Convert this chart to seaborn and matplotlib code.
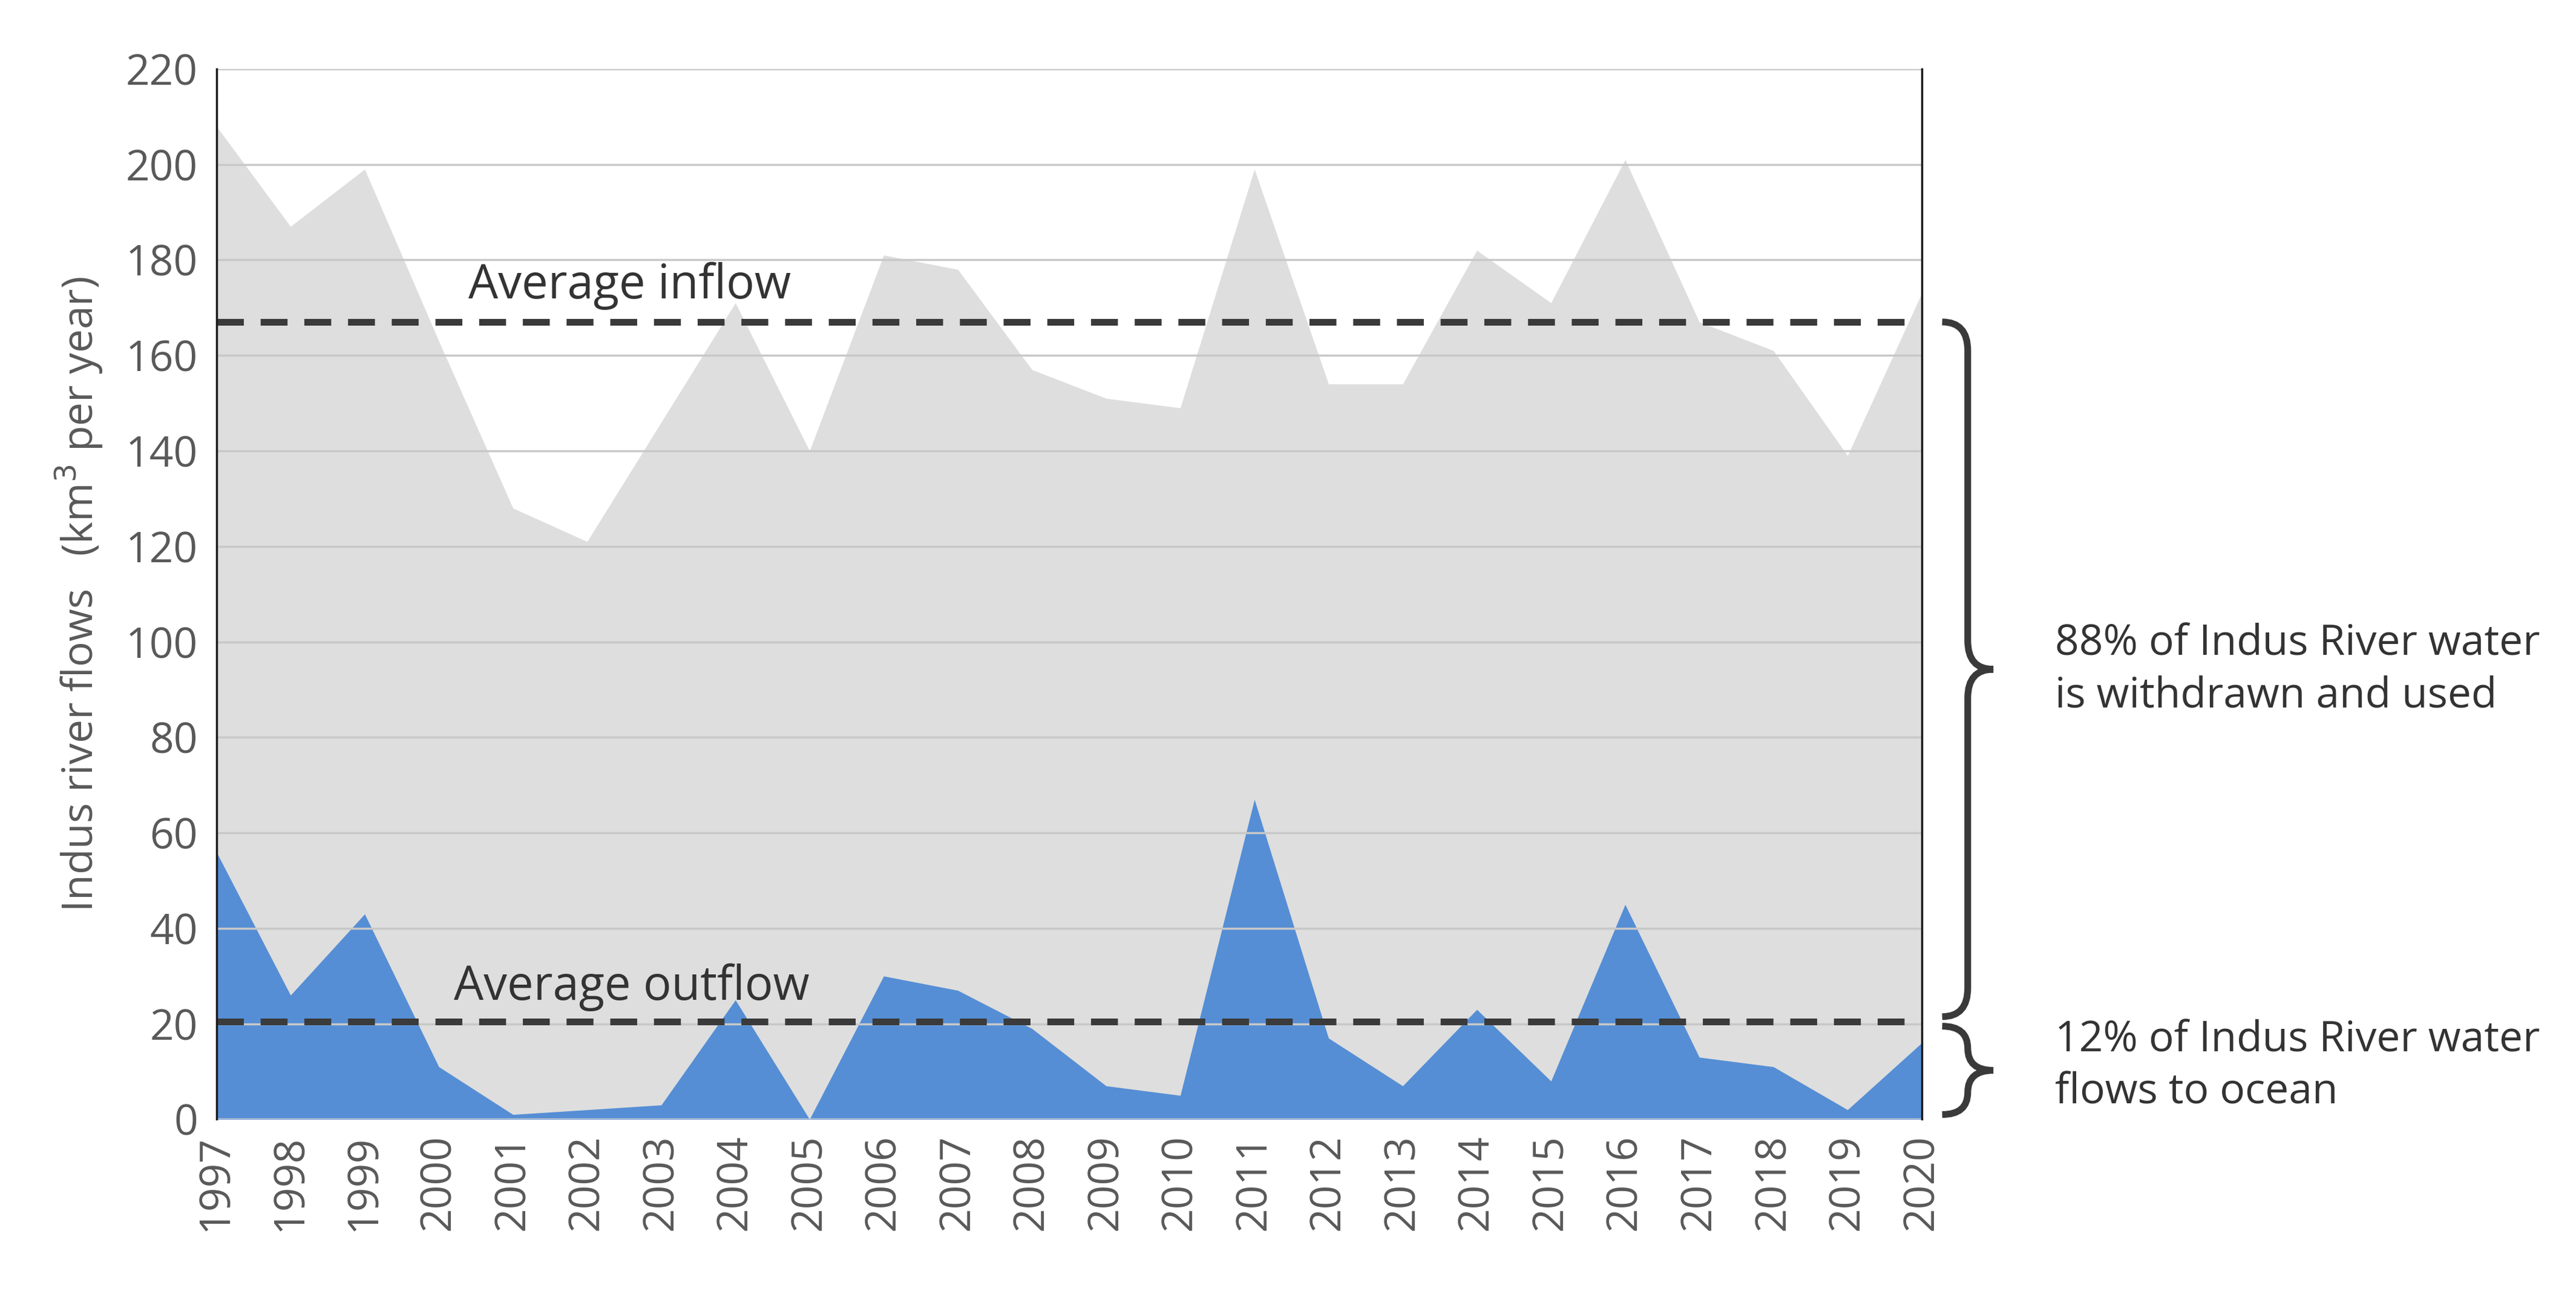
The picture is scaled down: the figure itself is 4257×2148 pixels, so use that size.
import numpy as np
import pandas as pd
import matplotlib.pyplot as plt
from matplotlib.path import Path
from matplotlib.patches import PathPatch
import matplotlib.transforms as mtransforms
import seaborn as sns

years = list(range(1997, 2021))
inflow = [208, 187, 199, 163, 128, 121, 146, 171, 140, 181, 178, 157,
          151, 149, 199, 154, 154, 182, 171, 201, 167, 161, 139, 173]
outflow = [56, 26, 43, 11, 1, 2, 3, 25, 0, 30, 27, 19,
           7, 5, 67, 17, 7, 23, 8, 45, 13, 11, 2, 16]
avg_inflow = 167
avg_outflow = 20.5

df = pd.DataFrame({'Year': years, 'Inflow': inflow, 'Outflow': outflow})

sns.set_style('white')
plt.rcParams['font.family'] = ['Open Sans', 'DejaVu Sans']

fig = plt.figure(figsize=(42.57, 21.48), dpi=100)
ax = fig.add_axes([0.084, 0.139, 0.662, 0.808])

ax.fill_between(df['Year'], df['Inflow'], color='#dedede', linewidth=0, zorder=1)
ax.fill_between(df['Year'], df['Outflow'], color='#558ed5', linewidth=0, zorder=2)
sns.lineplot(data=df, x='Year', y='Inflow', ax=ax, linewidth=0, color='#dedede')

ax.axhline(avg_inflow, color='#3a3a3a', linestyle=(0, (4, 2.5)), linewidth=8, zorder=4)
ax.axhline(avg_outflow, color='#3a3a3a', linestyle=(0, (4, 2.5)), linewidth=8, zorder=4)

ax.set_xlim(1997, 2020)
ax.set_ylim(0, 220)
ax.set_yticks(range(0, 221, 20))
ax.set_xticks(years)
ax.set_xticklabels([str(y) for y in years], rotation=90)
ax.tick_params(axis='y', labelsize=50, colors='#595959', length=0, pad=22)
ax.tick_params(axis='x', labelsize=50, colors='#595959', length=0, pad=18)
ax.yaxis.grid(True, color='#c8c8c8', linewidth=2.5, zorder=3)
ax.set_axisbelow(False)
ax.spines['top'].set_visible(False)
ax.spines['bottom'].set_visible(False)
for s in ['left', 'right']:
    ax.spines[s].set_color('#1a1a1a')
    ax.spines[s].set_linewidth(2.5)
    ax.spines[s].set_zorder(5)

ax.set_xlabel('')
ax.set_ylabel('Indus river flows   (km$^3$ per year)', fontsize=50, color='#595959', labelpad=25)

ax.text(2000.4, 172, 'Average inflow', fontsize=56, color='#333333')
ax.text(2000.2, 25, 'Average outflow', fontsize=56, color='#333333')

trans = mtransforms.blended_transform_factory(ax.transAxes, ax.transData)

def brace(y0, y1, x0=1.012, w=0.03):
    ym = (y0 + y1) / 2
    xm = x0 + w / 2
    xt = x0 + w
    r = min(6, abs(y1 - y0) / 4)
    verts = [(x0, y1), (xm, y1), (xm, y1 - r), (xm, y1 - r),
             (xm, ym + r), (xm, ym), (xt, ym),
             (xm, ym), (xm, ym - r), (xm, ym - r),
             (xm, y0 + r), (xm, y0), (x0, y0)]
    codes = [Path.MOVETO, Path.CURVE3, Path.CURVE3, Path.LINETO,
             Path.LINETO, Path.CURVE3, Path.CURVE3,
             Path.CURVE3, Path.CURVE3, Path.LINETO,
             Path.LINETO, Path.CURVE3, Path.CURVE3]
    p = PathPatch(Path(verts, codes), transform=trans, fill=False,
                  edgecolor='#3a3a3a', linewidth=8, clip_on=False)
    ax.add_patch(p)

brace(avg_outflow + 1, avg_inflow)
brace(1, avg_outflow - 1)

ax.text(1.078, 94, '88% of Indus River water\nis withdrawn and used', transform=trans,
        fontsize=50, color='#333333', va='center', linespacing=1.3)
ax.text(1.078, 11, '12% of Indus River water\nflows to ocean', transform=trans,
        fontsize=50, color='#333333', va='center', linespacing=1.3)

fig.savefig('out.png', dpi=100)
